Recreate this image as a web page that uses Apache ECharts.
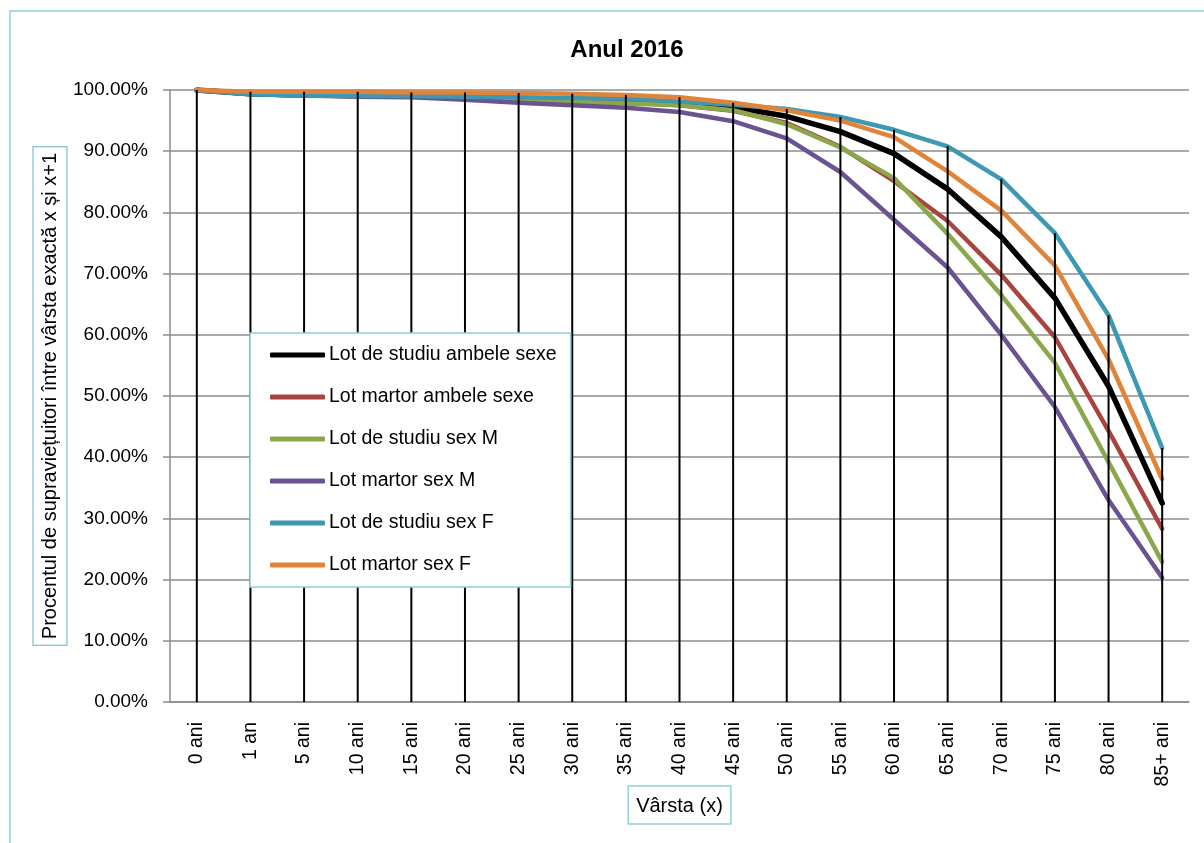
<!DOCTYPE html>
<html>
<head>
<meta charset="utf-8">
<title>Anul 2016</title>
<script src="https://cdn.jsdelivr.net/npm/echarts@6/dist/echarts.min.js"></script>
<style>
  html, body { margin: 0; padding: 0; background: #fff; }
  #chart { width: 1204px; height: 843px; }
</style>
</head>
<body>
<div id="chart"></div>
<script>
var categories = ['0 ani', '1 an', '5 ani', '10 ani', '15 ani', '20 ani', '25 ani', '30 ani', '35 ani', '40 ani',
  '45 ani', '50 ani', '55 ani', '60 ani', '65 ani', '70 ani', '75 ani', '80 ani', '85+ ani']

// procente (%)
var studiuAmbele = [100, 99.4, 99.2, 99.1, 99.0, 98.8, 98.6, 98.4, 98.1, 97.8, 97.2, 95.7, 93.2, 89.6, 83.8, 76.0, 66.0, 51.6, 32.5]
var martorAmbele = [100, 99.5, 99.3, 99.2, 99.1, 98.9, 98.6, 98.3, 98.0, 97.5, 96.6, 94.6, 90.7, 85.1, 78.6, 69.8, 59.6, 44.3, 28.3]
var studiuM = [100, 99.3, 99.1, 99.0, 98.9, 98.7, 98.4, 98.1, 97.8, 97.5, 96.7, 94.4, 90.6, 85.6, 76.5, 66.5, 55.4, 39.2, 22.9]
var martorM = [100, 99.3, 99.1, 98.9, 98.8, 98.4, 97.9, 97.5, 97.1, 96.4, 94.9, 92.1, 86.6, 78.8, 71.0, 60.0, 48.2, 33.0, 20.3]
var studiuF = [100, 99.3, 99.1, 99.0, 99.0, 98.9, 98.8, 98.7, 98.6, 98.1, 97.6, 96.9, 95.6, 93.5, 90.8, 85.4, 76.6, 63.2, 41.5]
var martorF = [100, 99.7, 99.7, 99.7, 99.6, 99.6, 99.5, 99.4, 99.2, 98.8, 97.9, 96.7, 95.0, 92.3, 86.7, 80.3, 71.3, 56.0, 36.4]

var yTicks = [0, 10, 20, 30, 40, 50, 60, 70, 80, 90, 100]

var font = "'Liberation Sans', Arial, sans-serif"

var seriesList = [
  {name: 'Lot de studiu ambele sexe', data: studiuAmbele, color: '#000000', width: 5.5},
  {name: 'Lot martor ambele sexe', data: martorAmbele, color: '#a8443f', width: 4.5},
  {name: 'Lot de studiu sex M', data: studiuM, color: '#8aa84b', width: 4.5},
  {name: 'Lot martor sex M', data: martorM, color: '#6b5290', width: 4.5},
  {name: 'Lot de studiu sex F', data: studiuF, color: '#3d98b1', width: 4.5},
  {name: 'Lot martor sex F', data: martorF, color: '#e0843a', width: 4.5}
]

// linii verticale (drop lines) de la cel mai mare punct pana la axa
var dropLines = categories.map(function (c, i) {
  return Math.max.apply(null, seriesList.map(function (s) { return s.data[i] }))
})

var series = seriesList.map(function (s) {
  return {
    name: s.name,
    type: 'line',
    data: s.data,
    symbol: 'none',
    lineStyle: {color: s.color, width: s.width, cap: 'round', join: 'round'},
    itemStyle: {color: s.color},
    z: 3
  }
})
series.push({
  name: 'drop',
  type: 'bar',
  data: dropLines,
  barWidth: 2,
  silent: true,
  itemStyle: {color: '#000'},
  z: 4
})

var chart = echarts.init(document.getElementById('chart'))
chart.setOption({
  animation: false,
  textStyle: {fontFamily: font},
  graphic: [
    {
      type: 'rect',
      shape: {x: 10, y: 11, width: 1260, height: 900},
      style: {fill: 'none', stroke: '#93cddd', lineWidth: 1.5},
      silent: true
    }
  ],
  title: {
    text: 'Anul 2016',
    left: 622,
    top: 33,
    textAlign: 'center',
    textStyle: {fontFamily: font, fontSize: 24, fontWeight: 'bold', color: '#000'}
  },
  legend: {
    orient: 'vertical',
    left: 250,
    top: 333,
    data: seriesList.map(function (s) { return s.name }),
    icon: 'roundRect',
    itemWidth: 55,
    itemHeight: 5,
    itemGap: 22,
    padding: [12, 14, 12, 20],
    backgroundColor: '#fff',
    borderColor: '#93cddd',
    borderWidth: 1.5,
    textStyle: {fontFamily: font, fontSize: 19.5, color: '#000', padding: [0, 0, 0, -1]},
    z: 10
  },
  grid: {
    left: 170,
    right: 15,
    top: 90,
    bottom: 141
  },
  xAxis: {
    type: 'category',
    data: categories,
    boundaryGap: true,
    name: 'Vârsta (x)',
    nameLocation: 'middle',
    nameGap: 84,
    nameMoveOverlap: false,
    nameTextStyle: {
      fontFamily: font, fontSize: 20, color: '#000',
      borderColor: '#93cddd', borderWidth: 1.5, padding: [10, 8, 8, 8]
    },
    axisLine: {lineStyle: {color: '#8c8c8c', width: 1.5}},
    axisTick: {show: false},
    axisLabel: {
      rotate: 90,
      margin: 20,
      interval: 0,
      fontFamily: font,
      fontSize: 19.5,
      color: '#000'
    },
    splitLine: {show: false}
  },
  yAxis: {
    type: 'value',
    min: yTicks[0],
    max: yTicks[yTicks.length - 1],
    interval: 10,
    name: 'Procentul de supraviețuitori între vârsta exactă x și x+1',
    nameLocation: 'middle',
    nameRotate: 90,
    nameGap: 103,
    nameMoveOverlap: false,
    nameTextStyle: {
      fontFamily: font, fontSize: 20, color: '#000',
      borderColor: '#93cddd', borderWidth: 1.5, padding: [7, 6, 7, 6]
    },
    axisLine: {show: true, lineStyle: {color: '#8c8c8c', width: 1.5}},
    axisTick: {show: true, length: 7, lineStyle: {color: '#8c8c8c', width: 1.5}},
    axisLabel: {
      margin: 22,
      fontFamily: font,
      fontSize: 19,
      color: '#000',
      formatter: function (v) { return v.toFixed(2) + '%' }
    },
    splitLine: {show: true, lineStyle: {color: '#8c8c8c', width: 1.5}}
  },
  series: series
})
</script>
</body>
</html>
